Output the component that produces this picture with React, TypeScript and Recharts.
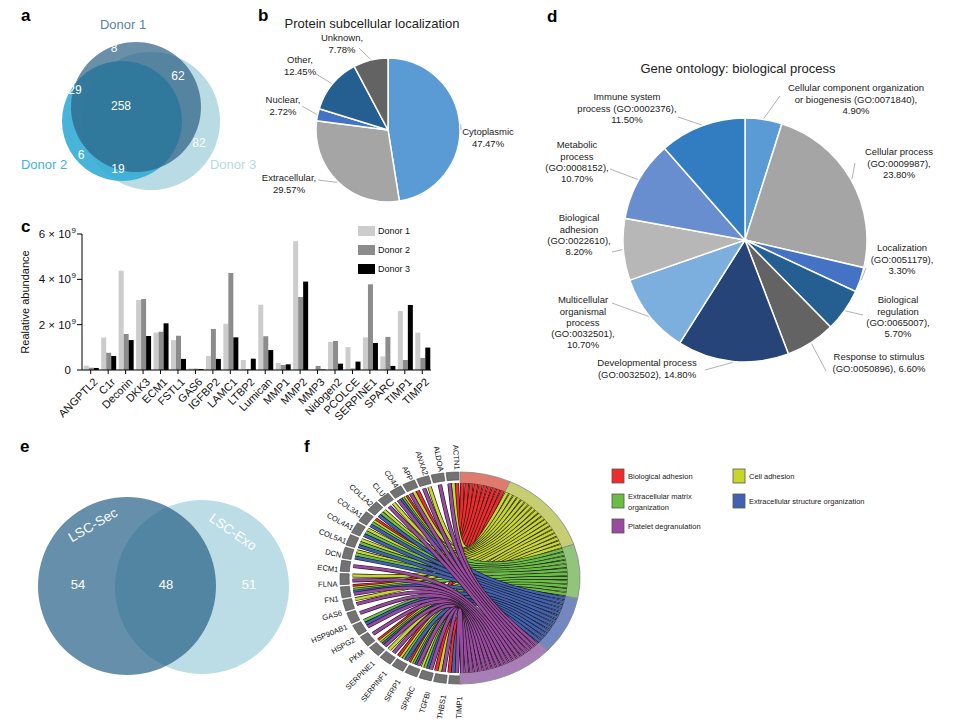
import React from "react";
import { PieChart, Pie, Cell, BarChart, Bar, XAxis, YAxis, LineChart, Line } from "recharts";

const FONT = "'Liberation Sans', Arial, Helvetica, sans-serif";
const RAD = Math.PI / 180;

// ---------- data ----------

// a: proteins shared between donors
const donorSets = ["Donor 1", "Donor 2", "Donor 3"];
const donorCounts = [8, 62, 29, 258, 82, 6, 19]; // 1, 1∩3, 1∩2, 1∩2∩3, 3, 2, 2∩3

// b: subcellular localization (%)
const locNames = ["Cytoplasmic", "Extracellular", "Nuclear", "Other", "Unknown"];
const locValues = [47.47, 29.57, 2.72, 12.45, 7.78];

// c: relative abundance (x 10^9)
const proteins = [
  "ANGPTL2", "C1r", "Decorin", "DKK3", "ECM1", "FSTL1", "GAS6", "IGFBP2", "LAMC1", "LTBP2",
  "Lumican", "MMP1", "MMP2", "MMP3", "Nidogen2", "PCOLCE", "SERPINE1", "SPARC", "TIMP1", "TIMP2",
];
const donor1 = [0.19, 1.43, 4.38, 3.09, 1.65, 1.32, 0.07, 0.62, 2.04, 0.44, 2.88, 0.31, 5.68, 0.02, 1.24, 1.01, 1.44, 0.6, 2.6, 1.65];
const donor2 = [0.1, 0.76, 1.59, 3.13, 1.69, 1.51, 0.06, 1.81, 4.28, 0.04, 1.49, 0.22, 3.22, 0.18, 1.28, 0.07, 3.78, 1.46, 0.44, 0.53];
const donor3 = [0.09, 0.62, 1.32, 1.5, 2.06, 0.49, 0.04, 0.49, 1.44, 0.5, 0.88, 0.25, 3.9, 0.02, 0.28, 0.37, 1.19, 0.18, 2.87, 0.99];
const abundanceTicks = [0, 2, 4, 6];

// d: GO biological process (%)
const goNames = [
  "Cellular component organization or biogenesis", "Cellular process", "Localization",
  "Biological regulation", "Response to stimulus", "Developmental process",
  "Multicellular organismal process", "Biological adhesion", "Metabolic process",
  "Immune system process",
];
const goIds = ["GO:0071840", "GO:0009987", "GO:0051179", "GO:0065007", "GO:0050896", "GO:0032502", "GO:0032501", "GO:0022610", "GO:0008152", "GO:0002376"];
const goValues = [4.9, 23.8, 3.3, 5.7, 6.6, 14.8, 10.7, 8.2, 10.7, 11.5];

// e: LSC-Sec vs LSC-Exo
const lscSets = ["LSC-Sec", "LSC-Exo"];
const lscCounts = [54, 48, 51]; // Sec only, both, Exo only

// f: gene / GO term membership
const chordGenes = [
  "ACTN1", "ALDOA", "ANXA2", "APP", "CD44", "CLU", "COL1A2", "COL3A1", "COL4A1", "COL5A1",
  "DCN", "ECM1", "FLNA", "FN1", "GAS6", "HSP90AB1", "HSPG2", "PKM", "SERPINE1", "SERPINF1",
  "SFRP1", "SPARC", "TGFBI", "THBS1", "TIMP1",
];
const chordTerms = ["Biological adhesion", "Cell adhesion", "Extracellular matrix organization", "Extracellular structure organization", "Platelet degranulation"];
const geneTerms = [
  [1, 1, 0, 0, 1], [0, 0, 0, 0, 1], [0, 1, 0, 0, 1], [1, 1, 0, 0, 1], [1, 1, 1, 1, 1],
  [0, 1, 0, 0, 1], [0, 1, 1, 1, 0], [1, 1, 1, 1, 0], [0, 1, 1, 1, 0], [0, 1, 1, 1, 0],
  [0, 1, 1, 1, 0], [0, 0, 0, 0, 1], [0, 1, 0, 0, 1], [1, 1, 1, 1, 1], [0, 1, 0, 0, 1],
  [0, 0, 0, 0, 1], [0, 0, 1, 1, 1], [0, 0, 0, 0, 1], [1, 1, 1, 1, 1], [0, 1, 0, 0, 1],
  [1, 1, 1, 1, 0], [1, 1, 1, 1, 1], [0, 1, 1, 1, 1], [1, 1, 0, 0, 1], [1, 0, 0, 1, 1],
];

// ---------- styles / layout ----------

const vennA = [
  { cx: 131, cy: 102, r: 65, fill: "#2b5f85", op: 0.7, text: "#5a84a3", lx: 123, ly: 24 },
  { cx: 117, cy: 116, r: 60, fill: "#35acd6", op: 0.9, text: "#45b2d8", lx: 44, ly: 164 },
  { cx: 146, cy: 116, r: 69, fill: "#a8d2dd", op: 0.8, text: "#b6dae3", lx: 233, ly: 164 },
];
const vennACountPos = [[114, 48], [178, 76], [75, 90], [121, 106], [199, 143], [81, 155], [118, 169]];

const locColors = ["#5b9bd5", "#a5a5a5", "#4472c4", "#255e91", "#636363"];
const locLabels = [
  { x: 298, y: 132, lx: 271, ly: 130, sep: "" },
  { x: 99, y: 178, lx: 128, ly: 180, sep: "," },
  { x: 93, y: 100, lx: 112, ly: 106, sep: "," },
  { x: 110, y: 60, lx: 126, ly: 74, sep: "," },
  { x: 152, y: 38, lx: 169, ly: 48, sep: "," },
];

const donorColors = ["#cccccc", "#8c8c8c", "#000000"];

const goColors = ["#5b9bd5", "#a5a5a5", "#4472c4", "#255e91", "#636363", "#264478", "#7cafdd", "#b7b7b7", "#698ed0", "#327dc2"];
const goLabels = [
  { x: 316, y: 88, lx: 240, ly: 96, words: [3, 3, 1] },
  { x: 359, y: 152, lx: 315, ly: 163, words: [2, 1, 1] },
  { x: 362, y: 248, lx: 326, ly: 268, words: [1, 1, 1] },
  { x: 358, y: 300, lx: 323, ly: 315, words: [1, 1, 1, 1] },
  { x: 339, y: 357, lx: 286, ly: 371, words: [3, 2] },
  { x: 107, y: 363, lx: 165, ly: 370, words: [2, 2] },
  { x: 43, y: 300, lx: 72, ly: 303, words: [1, 1, 1, 1, 1] },
  { x: 39, y: 218, lx: 72, ly: 252, words: [1, 1, 1, 1] },
  { x: 37, y: 145, lx: 70, ly: 169, words: [1, 1, 1, 1] },
  { x: 87, y: 97, lx: 138, ly: 117, words: [2, 2, 1] },
];

// e circles in local chart coords (chart top = 420)
const vennE = [
  { cx: 122, cy: 161, r: 89, fill: "#246086", op: 0.7, lx: 93, ly: 525, rot: -30 },
  { cx: 197, cy: 162, r: 87, fill: "#bcdde5", op: 1, lx: 233, ly: 532, rot: 35 },
];
const vennECountPos = [[78, 584], [166, 584], [249, 584]];

const termColors = ["#f02a2a", "#c8d62b", "#6cbd45", "#4261b0", "#9a4aa0"];
const termArcColors = ["#e07a6c", "#c6cd73", "#92c47c", "#7388c0", "#a77fb6"];
const termLegendPos = [[612, 469], [733, 469], [612, 494], [733, 494], [612, 519]];
const termLegendLines = [["Biological adhesion"], ["Cell adhesion"], ["Extracellular matrix", "organization"], ["Extracellular structure organization"], ["Platelet degranulation"]];

// chord ring: base circle, stretched horizontally to an ellipse
const RING_CX = 460;
const RING_CY = 578;
const RY = 106;
const RX = 120;
const PAD = 1.2;
const LINK_R = 95;
const LABEL_GAP = 7.5;

// ---------- chord links from membership ----------

const geneW = 180 / chordGenes.length;
const linksByTerm = chordTerms.map((_, t) => chordGenes.map((_, g) => g).filter((g) => geneTerms[g][t]));
const termCounts = linksByTerm.map((l) => l.length);
const totalLinks = termCounts.reduce((a, b) => a + b, 0);
const termStarts: number[] = [];
{
  let acc = 90;
  termCounts.forEach((c) => {
    termStarts.push(acc);
    acc -= (c * 180) / totalLinks;
  });
}
const polar = (deg: number, r: number) => ({ x: r * Math.cos(deg * RAD), y: r * Math.sin(deg * RAD) });
const chords: { t: number; pts: { x: number; y: number }[] }[] = [];
chordTerms.forEach((_, t) => {
  linksByTerm[t].forEach((g, m) => {
    const own = geneTerms[g].map((v, i) => (v ? i : -1)).filter((i) => i >= 0);
    const j = own.indexOf(t);
    const ga = 90 + PAD / 2 + g * geneW + ((j + 0.5) * (geneW - PAD)) / own.length;
    const ta = termStarts[t] - ((m + 0.5) * 180) / totalLinks;
    chords.push({ t, pts: [polar(ga, LINK_R), { x: 0, y: 0 }, polar(ta, LINK_R)] });
  });
});

// ---------- panels ----------

function VennA() {
  return (
    <PieChart width={240} height={200}>
      {[2, 1, 0].map((i) => {
        const c = vennA[i];
        return (
          <Pie key={donorSets[i]} data={[{ name: donorSets[i], value: 1 }]} dataKey="value" cx={c.cx} cy={c.cy}
            outerRadius={c.r} startAngle={90} endAngle={-270} stroke="none" isAnimationActive={false}>
            <Cell fill={c.fill} fillOpacity={c.op} />
          </Pie>
        );
      })}
    </PieChart>
  );
}

const edge = (p: any, extra = 1) => ({
  x: p.cx + (p.outerRadius + extra) * Math.cos(-p.midAngle * RAD),
  y: p.cy + (p.outerRadius + extra) * Math.sin(-p.midAngle * RAD),
});

const renderLocLabel = (p: any) => {
  const L = locLabels[p.index];
  const e = edge(p);
  const lines = [locNames[p.index] + L.sep, locValues[p.index].toFixed(2) + "%"];
  return (
    <g key={`loc${p.index}`}>
      <line x1={L.lx} y1={L.ly} x2={e.x} y2={e.y} stroke="#a0a0a0" strokeWidth={0.8} />
      <text x={L.x} y={L.y} textAnchor="middle" fontSize={9.5} fill="#222">
        {lines.map((s, i) => (
          <tspan key={i} x={L.x} dy={i ? 11.5 : 3.3}>{s}</tspan>
        ))}
      </text>
    </g>
  );
};

function LocPie() {
  const data = locNames.map((n, i) => ({ name: n, value: locValues[i] }));
  return (
    <PieChart width={350} height={210}>
      <Pie data={data} dataKey="value" cx={193} cy={125} outerRadius={72} startAngle={90} endAngle={-270}
        stroke="#fff" strokeWidth={1.5} label={renderLocLabel} labelLine={false} isAnimationActive={false}>
        {data.map((d, i) => <Cell key={d.name} fill={locColors[i]} />)}
      </Pie>
    </PieChart>
  );
}

const XTick = (p: any) => {
  const x = p.x + 3;
  const y = p.y + 2;
  return (
    <text x={x} y={y} dy="0.6em" textAnchor="end" fontSize={11} fill="#111" transform={`rotate(-45 ${x} ${y})`}>
      {p.payload.value}
    </text>
  );
};

const YTick = (p: any) => {
  const v = p.payload.value;
  if (v === 0) {
    return <text x={p.x - 4} y={p.y} dy={4} textAnchor="end" fontSize={11.5} fill="#111">0</text>;
  }
  return (
    <g>
      <text x={p.x - 4} y={p.y} dy={4} textAnchor="end" fontSize={11.5} fill="#111">{`${v} × 10`}</text>
      <text x={p.x - 3.5} y={p.y} dy={-1} fontSize={8} fill="#111">9</text>
    </g>
  );
};

function AbundanceBars() {
  const data = proteins.map((name, i) => ({ name, d1: donor1[i], d2: donor2[i], d3: donor3[i] }));
  return (
    <BarChart width={540} height={215} data={data} margin={{ top: 14, right: 109, left: 32, bottom: 0 }}
      barCategoryGap="10%" barGap={0}>
      <XAxis dataKey="name" interval={0} height={65} tick={XTick} tickSize={4}
        axisLine={{ stroke: "#000" }} tickLine={{ stroke: "#000" }} />
      <YAxis width={50} domain={[0, 6]} ticks={abundanceTicks} tick={YTick} tickSize={5}
        axisLine={{ stroke: "#000" }} tickLine={{ stroke: "#000" }} />
      <Bar dataKey="d1" name={donorSets[0]} fill={donorColors[0]} isAnimationActive={false} />
      <Bar dataKey="d2" name={donorSets[1]} fill={donorColors[1]} isAnimationActive={false} />
      <Bar dataKey="d3" name={donorSets[2]} fill={donorColors[2]} isAnimationActive={false} />
    </BarChart>
  );
}

const renderGoLabel = (p: any) => {
  const L = goLabels[p.index];
  const e = edge(p);
  const words = `${goNames[p.index]} (${goIds[p.index]}), ${goValues[p.index].toFixed(2)}%`.split(" ");
  const lines: string[] = [];
  let k = 0;
  L.words.forEach((n) => {
    lines.push(words.slice(k, k + n).join(" "));
    k += n;
  });
  return (
    <g key={`go${p.index}`}>
      <line x1={L.lx} y1={L.ly} x2={e.x} y2={e.y} stroke="#a0a0a0" strokeWidth={0.8} />
      <text x={L.x} y={L.y} textAnchor="middle" fontSize={9.5} fill="#222">
        {lines.map((s, i) => (
          <tspan key={i} x={L.x} dy={i ? 11.2 : 3.3}>{s}</tspan>
        ))}
      </text>
    </g>
  );
};

function GoPie() {
  const data = goNames.map((n, i) => ({ name: n, value: goValues[i] }));
  return (
    <PieChart width={424} height={420}>
      <Pie data={data} dataKey="value" cx={200} cy={235} outerRadius={122} startAngle={90} endAngle={-270}
        stroke="#fff" strokeWidth={1.5} label={renderGoLabel} labelLine={false} isAnimationActive={false}>
        {data.map((d, i) => <Cell key={d.name} fill={goColors[i]} />)}
      </Pie>
    </PieChart>
  );
}

function VennE() {
  return (
    <PieChart width={300} height={300}>
      {[1, 0].map((i) => {
        const c = vennE[i];
        return (
          <Pie key={lscSets[i]} data={[{ name: lscSets[i], value: 1 }]} dataKey="value" cx={c.cx} cy={c.cy}
            outerRadius={c.r} startAngle={90} endAngle={-270} stroke="none" isAnimationActive={false}>
            <Cell fill={c.fill} fillOpacity={c.op} />
          </Pie>
        );
      })}
    </PieChart>
  );
}

function ChordRing() {
  const genes = chordGenes.map((g) => ({ name: g, value: 1 }));
  const terms = chordTerms.map((t, i) => ({ name: t, value: termCounts[i] }));
  return (
    <PieChart width={220} height={220} margin={{ top: 0, right: 0, bottom: 0, left: 0 }}>
      <Pie data={genes} dataKey="value" cx={110} cy={110} innerRadius={98} outerRadius={RY}
        startAngle={90 + PAD / 2} endAngle={270 + PAD / 2} paddingAngle={PAD}
        fill="#727272" stroke="#4a4a4a" strokeWidth={0.6} isAnimationActive={false} />
      <Pie data={terms} dataKey="value" cx={110} cy={110} innerRadius={LINK_R} outerRadius={RY}
        startAngle={90} endAngle={-90} stroke="#8a8a8a" strokeWidth={0.8} isAnimationActive={false}>
        {terms.map((t, i) => <Cell key={t.name} fill={termArcColors[i]} />)}
      </Pie>
    </PieChart>
  );
}

function ChordLinks() {
  return (
    <LineChart width={220} height={220} margin={{ top: 0, right: 0, bottom: 0, left: 0 }}>
      <XAxis type="number" dataKey="x" domain={[-110, 110]} hide allowDataOverflow />
      <YAxis type="number" domain={[-110, 110]} hide allowDataOverflow />
      {chords.flatMap((c, i) => [
        <Line key={`o${i}`} data={c.pts} dataKey="y" type="basis" stroke="#1a1a1a" strokeWidth={3.8}
          dot={false} activeDot={false} legendType="none" isAnimationActive={false} />,
        <Line key={`c${i}`} data={c.pts} dataKey="y" type="basis" stroke={termColors[c.t]} strokeWidth={2.6}
          dot={false} activeDot={false} legendType="none" isAnimationActive={false} />,
      ])}
    </LineChart>
  );
}

// label sits a fixed gap outside the ellipse, along its normal
const renderGeneLabel = (p: any) => {
  const a = p.midAngle * RAD;
  const nx = Math.cos(a) / RX;
  const ny = Math.sin(a) / RY;
  const nl = Math.hypot(nx, ny);
  const x = p.cx + RX * Math.cos(a) + (LABEL_GAP * nx) / nl;
  const y = p.cy - RY * Math.sin(a) - (LABEL_GAP * ny) / nl;
  return (
    <text key={`g${p.index}`} x={x} y={y} textAnchor="end" dominantBaseline="central" fontSize={7.6} fill="#111"
      transform={`rotate(${180 - p.midAngle} ${x} ${y})`}>
      {p.name}
    </text>
  );
};

function ChordLabels() {
  const genes = chordGenes.map((g) => ({ name: g, value: 1 }));
  return (
    <PieChart width={400} height={340}>
      <Pie data={genes} dataKey="value" cx={200} cy={170} innerRadius={98} outerRadius={RY}
        startAngle={90 + PAD / 2} endAngle={270 + PAD / 2} paddingAngle={PAD}
        fill="none" stroke="none" label={renderGeneLabel} labelLine={false} isAnimationActive={false} />
    </PieChart>
  );
}

export default function App() {
  const letters = [["a", 21, 21], ["b", 258, 21], ["c", 21, 232], ["d", 547, 22], ["e", 20, 452], ["f", 304, 452]] as const;
  return (
    <div style={{ position: "absolute", left: 0, top: 0, width: 964, height: 720, background: "#fff", fontFamily: FONT, overflow: "hidden" }}>
      <div style={{ position: "absolute", left: 0, top: 0 }}><VennA /></div>
      <div style={{ position: "absolute", left: 190, top: 0 }}><LocPie /></div>
      <div style={{ position: "absolute", left: 0, top: 220 }}><AbundanceBars /></div>
      <div style={{ position: "absolute", left: 540, top: 0 }}><GoPie /></div>
      <div style={{ position: "absolute", left: 0, top: 420 }}><VennE /></div>
      <div style={{ position: "absolute", left: RING_CX - 110, top: RING_CY - 110, width: 220, height: 220, transform: `scaleX(${RX / RY})`, transformOrigin: "50% 50%" }}>
        <div style={{ position: "absolute", left: 0, top: 0 }}><ChordRing /></div>
        <div style={{ position: "absolute", left: 0, top: 0 }}><ChordLinks /></div>
      </div>
      <div style={{ position: "absolute", left: RING_CX - 200, top: RING_CY - 170 }}><ChordLabels /></div>

      <svg width={964} height={720} style={{ position: "absolute", left: 0, top: 0, pointerEvents: "none", fontFamily: FONT }}>
        {letters.map(([t, x, y]) => (
          <text key={t} x={x} y={y} fontSize={17} fontWeight="bold" fill="#000">{t}</text>
        ))}
        {/* a */}
        {vennA.map((c, i) => (
          <text key={donorSets[i]} x={c.lx} y={c.ly + 4.5} textAnchor="middle" fontSize={13} fill={c.text}>{donorSets[i]}</text>
        ))}
        {donorCounts.map((n, i) => (
          <text key={`a${i}`} x={vennACountPos[i][0]} y={vennACountPos[i][1] + 4.2} textAnchor="middle" fontSize={12} fill="#fff">{n}</text>
        ))}
        {/* b, d titles */}
        <text x={372} y={27.5} textAnchor="middle" fontSize={13} fill="#222">Protein subcellular localization</text>
        <text x={738} y={72.5} textAnchor="middle" fontSize={13} fill="#222">Gene ontology: biological process</text>
        {/* c */}
        <text x={25} y={302} textAnchor="middle" dominantBaseline="central" fontSize={11} fill="#111" transform="rotate(-90 25 302)">Realative abundance</text>
        {donorSets.map((d, i) => (
          <g key={`lg${d}`}>
            <rect x={358} y={226 + i * 19} width={17} height={10} fill={donorColors[i]} />
            <text x={378} y={234.2 + i * 19} fontSize={9} fill="#111">{d}</text>
          </g>
        ))}
        {/* e */}
        {vennE.map((c, i) => (
          <text key={lscSets[i]} x={c.lx} y={c.ly} textAnchor="middle" dominantBaseline="central" fontSize={13.5} fill="#fff"
            transform={`rotate(${c.rot} ${c.lx} ${c.ly})`}>{lscSets[i]}</text>
        ))}
        {lscCounts.map((n, i) => (
          <text key={`e${i}`} x={vennECountPos[i][0]} y={vennECountPos[i][1] + 4.5} textAnchor="middle" fontSize={13} fill="#fff">{n}</text>
        ))}
        {/* f legend */}
        {chordTerms.map((t, i) => {
          const [x, y] = termLegendPos[i];
          const lines = termLegendLines[i];
          return (
            <g key={t}>
              <rect x={x} y={y} width={12} height={14} fill={termColors[i]} stroke="#555" strokeWidth={0.8} />
              {lines.map((s, k) => (
                <text key={k} x={x + 16} y={y + 10 - (lines.length - 1) * 5 + k * 10.5} fontSize={7.5} fill="#222">{s}</text>
              ))}
            </g>
          );
        })}
      </svg>
    </div>
  );
}
